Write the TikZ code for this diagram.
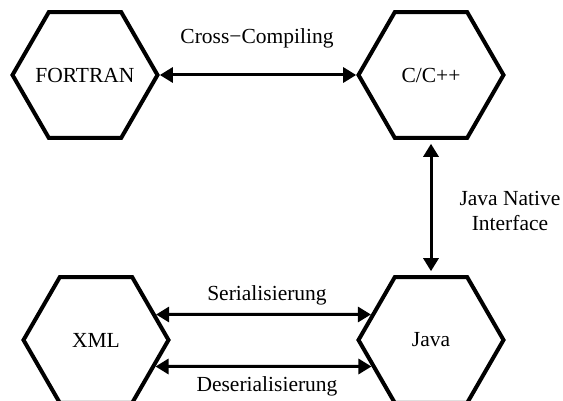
\documentclass[tikz,border=0pt]{standalone}
\usepackage{fontspec}
\setmainfont{Liberation Serif}
\usetikzlibrary{shapes.geometric,arrows.meta}
\tikzset{
  hexa/.style={regular polygon, regular polygon sides=6, minimum size=145pt,
    inner sep=0pt, draw=black, line width=4pt},
  link/.style={line width=3pt, {Triangle[length=13pt,width=15pt]}-{Triangle[length=13pt,width=15pt]}},
  lbl/.style={inner sep=0pt, align=center, font=\fontsize{21.5}{25}\selectfont}
}
\begin{document}
\begin{tikzpicture}[x=1pt, y=-1pt]
  \useasboundingbox (0,0) rectangle (563,401);

  % language hexagons (names set as centred labels so they do not size the shape)
  \node[hexa, label={[lbl]center:FORTRAN}] (fortran) at (85,75)  {};
  \node[hexa, label={[lbl]center:C/C++}]   (cpp)     at (431,75) {};
  \node[hexa, label={[lbl]center:XML}]     (xml)     at (96,340) {};
  \node[hexa, label={[lbl]center:Java}]    (java)    at (431,340) {};

  % connectors
  \draw[link] (fortran.east) -- (cpp.west);
  \draw[link, shorten <=4pt, shorten >=4pt] (cpp.south) -- (java.north);
  \draw[link] (xml.23) -- (java.157);
  \draw[link] (xml.-24) -- (java.-156);

  % connector labels
  \node[lbl] (cc)    at (257,38)  {Cross−Compiling};
  \node[lbl] (jni)   at (510,211) {Java Native\\Interface};
  \node[lbl] (ser)   at (267,295) {Serialisierung};
  \node[lbl] (deser) at (267,386) {Deserialisierung};
\end{tikzpicture}
\end{document}
